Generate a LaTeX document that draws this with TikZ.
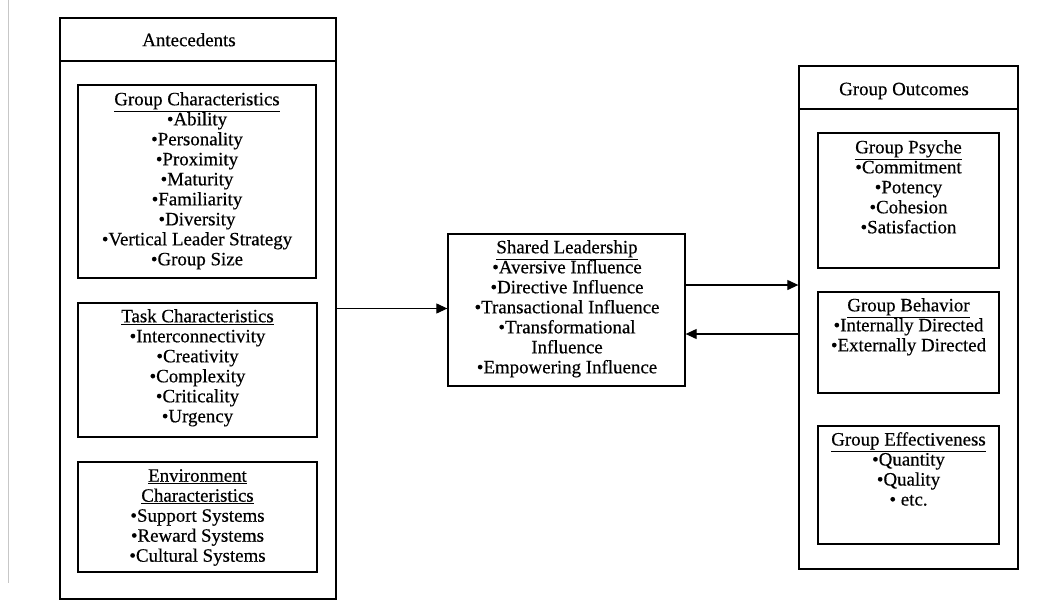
\documentclass[tikz,border=0pt]{standalone}
\usepackage{fontspec}
\setmainfont{Liberation Serif}
\newfontfamily\inkfont[FakeBold=0.45]{Liberation Serif}
\usetikzlibrary{arrows.meta}
\newcommand\bul{\textbullet}
\begin{document}
\begin{tikzpicture}[x=1pt,y=-1pt,
  box/.style={draw, line width=1.3pt, inner sep=0pt},
  txt/.style={anchor=north, align=center, inner sep=0pt,
    font=\inkfont\fontsize{18.9}{20}\selectfont, execute at begin node=\strut},
  arr/.style={line width=1.1pt, -{Triangle[length=11pt,width=10pt]}}]
\useasboundingbox (0,0) rectangle (1058,603);
% faint margin rule on the left
\draw[black!22, line width=0.8pt] (8.5,0) -- (8.5,583);

% antecedents column
\node[box, minimum width=276pt, minimum height=581pt] (ante) at (198,308.5) {};
\draw[line width=1.3pt] (ante.west |- 0,61) -- (ante.east |- 0,61);
\node[txt] (anteh) at (189,32) {Antecedents};

\node[box, minimum width=238pt, minimum height=193pt] (gc) at (197,181.5) {};
\node[txt] (gct) at (197,92) {\underline{Group Characteristics}\\ \bul Ability\\ \bul Personality\\ \bul Proximity\\ \bul Maturity\\ \bul Familiarity\\ \bul Diversity\\ \bul Vertical Leader Strategy\\ \bul Group Size};

\node[box, minimum width=239pt, minimum height=134pt] (tc) at (197.5,370) {};
\node[txt] (tct) at (197.5,309) {\underline{Task Characteristics}\\ \bul Interconnectivity\\ \bul Creativity\\ \bul Complexity\\ \bul Criticality\\ \bul Urgency};

\node[box, minimum width=239pt, minimum height=110pt] (ec) at (197.5,517) {};
\node[txt] (ect) at (197.5,469) {\underline{Environment}\\ \underline{Characteristics}\\ \bul Support Systems\\ \bul Reward Systems\\ \bul Cultural Systems};

% shared leadership
\node[box, minimum width=237pt, minimum height=152pt] (sl) at (566.5,310) {};
\node[txt] (slt) at (567,240) {\underline{Shared Leadership}\\ \bul Aversive Influence\\ \bul Directive Influence\\ \bul Transactional Influence\\ \bul Transformational\\ Influence\\ \bul Empowering Influence};

% outcomes column
\node[box, minimum width=219pt, minimum height=503pt] (out) at (908.5,317.5) {};
\draw[line width=1.3pt] (out.west |- 0,109) -- (out.east |- 0,109);
\node[txt] (outh) at (904,81) {Group Outcomes};

\node[box, minimum width=181pt, minimum height=135pt] (gp) at (908.5,200.5) {};
\node[txt] (gpt) at (908.5,140) {\underline{Group Psyche}\\ \bul Commitment\\ \bul Potency\\ \bul Cohesion\\ \bul Satisfaction};

\node[box, minimum width=181pt, minimum height=101pt] (gb) at (908.5,342.5) {};
\node[txt] (gbt) at (908.5,298) {\underline{Group Behavior}\\ \bul Internally Directed\\ \bul Externally Directed};

\node[box, minimum width=181pt, minimum height=118pt] (ge) at (908.5,485) {};
\node[txt] (get) at (908.5,432) {\underline{Group Effectiveness}\\ \bul Quantity\\ \bul Quality\\ \bul\ etc.};

% connectors
\draw[arr] (ante.east) -- (ante.east -| sl.west);
\draw[arr] ([yshift=25pt]sl.east) -- ([yshift=25pt]sl.east -| out.west);
\draw[arr] ([yshift=-24pt]sl.east -| out.west) -- ([yshift=-24pt]sl.east);
\end{tikzpicture}
\end{document}
